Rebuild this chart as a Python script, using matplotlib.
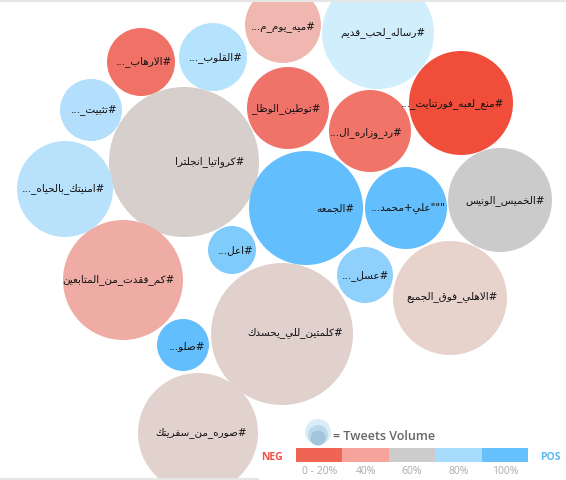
import matplotlib
matplotlib.use("Agg")
import matplotlib.pyplot as plt
from matplotlib.patches import Circle, Rectangle

# hashtag bubbles: label, sentiment colour, centre (px), radius (px)
labels = [
    "#رساله_لحب_قديم", "#ميه_يوم_م...", "#القلوب_...", "#الارهاب_...",
    "#تثبيت_...", "#كرواتيا_انجلترا", "#توطين_الوظا_", "#رد_وزاره_ال...",
    "#منع_لعبه_فورتنايت_...", "#الجمعه", '"""علي+محمد...', "#الخميس_الونيس",
    "#امنيتك_بالحياه_...", "#اعل...", "#كم_فقدت_من_المتابعين", "#عسل_...",
    "#الاهلي_فوق_الجميع", "#كلمتين_للي_يحسدك", "#صلو...", "#صوره_من_سفريتك",
]
colors = [
    "#d1eefc", "#efb7b0", "#b5e2fc", "#f07266", "#b3defc", "#d6cfcc",
    "#f0736a", "#f07468", "#f04e3b", "#62befc", "#62befc", "#cbcbcb",
    "#b8e2fc", "#7fcbfc", "#efaca5", "#8fd0fc", "#e8d2cc", "#e0d1cd",
    "#62befc", "#e1d2cd",
]
cx = [378, 283, 213, 141, 91, 184, 288, 370, 461, 306, 406, 500,
      65, 232, 123, 365, 450, 282, 183, 198]
cy = [33, 25, 57, 62, 110, 162, 108, 131, 103, 208, 208, 200,
      189, 250, 280, 275, 298, 334, 345, 433]
radius = [56, 38, 34, 34, 31, 75, 41, 41, 52, 57, 41, 52,
          48, 24, 60, 28, 57, 71, 26, 60]
label_dx = [5, 0, 3, 3, 3, 26, -2, -4, -8, 29, 2, 5, -1, 4, -5, 1, 2, 13, 4, 3]
label_y = [33, 27, 58, 62, 110, 162, 109, 133, 104, 208, 208, 201,
           189, 250, 280, 276, 297, 333, 346, 433]

legend_colors = ["#f06454", "#f5a39b", "#cccccc", "#a8dcfc", "#66c0fc"]
legend_ticks = ["0 - 20%", "40%", "60%", "80%", "100%"]

# minimal arabic shaping (matplotlib has no bidi / joining support)
DUAL = {'ئ': 0xFE89, 'ب': 0xFE8F, 'ت': 0xFE95, 'ث': 0xFE99, 'ج': 0xFE9D,
        'ح': 0xFEA1, 'خ': 0xFEA5, 'س': 0xFEB1, 'ش': 0xFEB5, 'ص': 0xFEB9,
        'ض': 0xFEBD, 'ط': 0xFEC1, 'ظ': 0xFEC5, 'ع': 0xFEC9, 'غ': 0xFECD,
        'ف': 0xFED1, 'ق': 0xFED5, 'ك': 0xFED9, 'ل': 0xFEDD, 'م': 0xFEE1,
        'ن': 0xFEE5, 'ه': 0xFEE9, 'ي': 0xFEF1}
RIGHT = {'آ': 0xFE81, 'أ': 0xFE83, 'ؤ': 0xFE85, 'إ': 0xFE87, 'ا': 0xFE8D,
         'ة': 0xFE93, 'د': 0xFEA9, 'ذ': 0xFEAB, 'ر': 0xFEAD, 'ز': 0xFEAF,
         'و': 0xFEED, 'ى': 0xFEEF}


def shape(s):
    out = []
    i = 0
    while i < len(s):
        c = s[i]
        prev = i > 0 and s[i - 1] in DUAL
        if c == 'ل' and i + 1 < len(s) and s[i + 1] == 'ا':
            out.append(chr(0xFEFC if prev else 0xFEFB))
            i += 2
            continue
        if c in DUAL:
            nxt = i + 1 < len(s) and (s[i + 1] in DUAL or s[i + 1] in RIGHT)
            form = 3 if (prev and nxt) else 2 if nxt else 1 if prev else 0
            out.append(chr(DUAL[c] + form))
        elif c in RIGHT:
            out.append(chr(RIGHT[c] + (1 if prev else 0)))
        else:
            out.append(c)
        i += 1
    return ''.join(reversed(out))


W, H = 566, 480
fig = plt.figure(figsize=(W / 100, H / 100), dpi=100)
ax = fig.add_axes([0, 0, 1, 1])
ax.set_xlim(0, W)
ax.set_ylim(H, 0)
ax.set_aspect('equal')
ax.axis('off')

# card edges
ax.plot([0, W], [0.8, 0.8], color="#e6e6e6", lw=1.5)
ax.plot([0, 258], [479, 479], color="#e6e6e6", lw=1.5)

for lab, col, x, y, r, dx, ly in zip(labels, colors, cx, cy, radius, label_dx, label_y):
    ax.add_patch(Circle((x, y), r, facecolor=col, edgecolor='none'))
    ax.text(x + dx, ly, shape(lab), ha='center', va='center',
            fontsize=7.5, color="#111111", family="DejaVu Sans")

# legend: bubble size icon
for r, dy, col in [(13, 0, "#dbedf9"), (10, 3, "#bcd9ec"), (7.5, 6, "#a3c5dc")]:
    ax.add_patch(Circle((318, 432 + dy), r, facecolor=col, edgecolor='none'))
ax.text(333, 436, "= Tweets Volume", ha='left', va='center', fontsize=9,
        color="#666666", family="Open Sans", fontweight='semibold')

# legend: sentiment scale
seg_w = (528 - 296) / len(legend_colors)
for i, (col, t) in enumerate(zip(legend_colors, legend_ticks)):
    x0 = 296 + i * seg_w
    ax.add_patch(Rectangle((x0, 448), seg_w, 14, facecolor=col, edgecolor='none'))
    ax.text(x0 + seg_w / 2, 471.5, t, ha='center', va='center', fontsize=7.5,
            color="#aaaaaa", family="Open Sans")
ax.text(272, 457, "NEG", ha='center', va='center', fontsize=7.5,
        color="#ee5048", family="Open Sans", fontweight='bold')
ax.text(550, 457, "POS", ha='center', va='center', fontsize=7.5,
        color="#5cbaf5", family="Open Sans", fontweight='bold')

fig.savefig("out.png", dpi=100)
